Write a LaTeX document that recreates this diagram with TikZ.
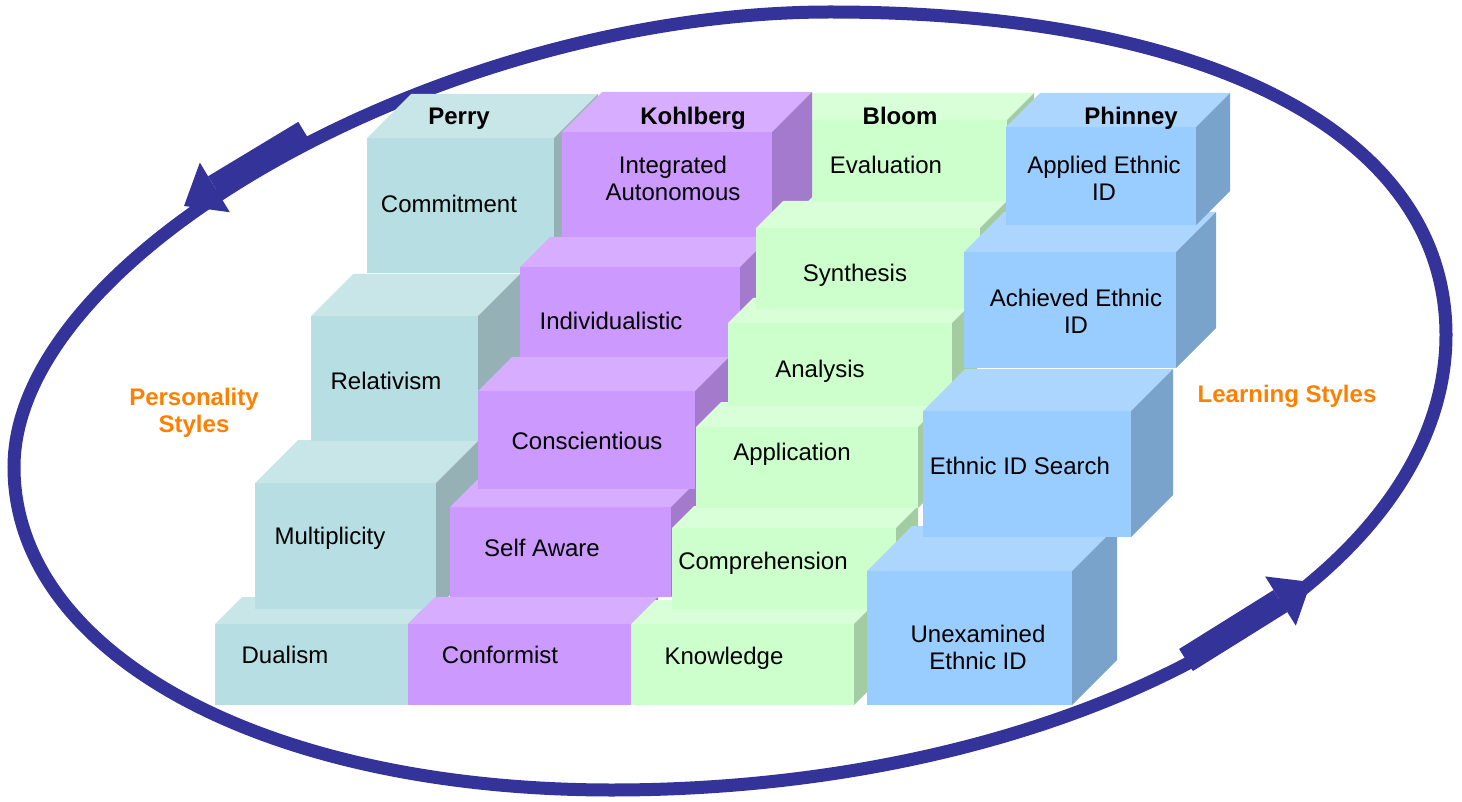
\documentclass[tikz,border=0pt]{standalone}
\usepackage{fontspec}
\setmainfont{Liberation Sans}
\usepackage{tikz}
\usetikzlibrary{arrows.meta}

\definecolor{perryfront}{HTML}{B7DFE3}
\definecolor{perrytop}{HTML}{C8E6E8}
\definecolor{perryside}{HTML}{95B1B5}
\definecolor{kohlfront}{HTML}{CC99FF}
\definecolor{kohltop}{HTML}{D6ADFF}
\definecolor{kohlside}{HTML}{A37ACC}
\definecolor{bloomfront}{HTML}{CCFFCC}
\definecolor{bloomtop}{HTML}{D9FFD9}
\definecolor{bloomside}{HTML}{A3CCA3}
\definecolor{phinfront}{HTML}{99CCFF}
\definecolor{phintop}{HTML}{ADD6FF}
\definecolor{phinside}{HTML}{7AA3CC}
\definecolor{ringblue}{HTML}{333399}
\definecolor{stylesorange}{HTML}{FF8000}

\newcommand{\stepblock}[6]{%
  \fill[#1front] (#2,#4) rectangle (#3,#5);
  \fill[#1top] (#2,#4) -- (#2+#6,#4-#6) -- (#3+#6,#4-#6) -- (#3,#4) -- cycle;
  \fill[#1side] (#3,#4) -- (#3+#6,#4-#6) -- (#3+#6,#5-#6) -- (#3,#5) -- cycle;
}

\begin{document}
\begin{tikzpicture}[x=1pt,y=-1pt,
  lbl/.style={font=\fontsize{24}{27}\selectfont, text height=17pt, text depth=0pt, inner sep=0pt},
  lbltwo/.style={font=\fontsize{24}{27}\selectfont, align=center, inner sep=0pt},
  headlbl/.style={lbl, font=\fontsize{24}{27}\selectfont\bfseries},
  stylelbl/.style={lbltwo, text=stylesorange, font=\fontsize{24}{27}\selectfont\bfseries},
  ring/.style={draw=ringblue, line width=13pt},
  ringarrow/.style={draw=ringblue, line width=26pt, -{Triangle[length=36pt,width=58pt,line width=0pt]}}]
\useasboundingbox (0,0) rectangle (1462,802);
\coordinate (ringl) at (14,467);
\coordinate (ringb) at (612,790);
\coordinate (ringr) at (1446,335);
\coordinate (ringt) at (830,12);
\draw[ring] (ringl) .. controls +(0,187) and +(-347,0) .. (ringb)
  .. controls +(459,0) and +(0,250) .. (ringr)
  .. controls +(0,-200) and +(382,0) .. (ringt)
  .. controls +(-384,0) and +(0,-214) .. (ringl) -- cycle;
\coordinate (ulstart) at (305,133);
\coordinate (ultip) at (184,206);
\coordinate (lrstart) at (1186,660);
\coordinate (lrtip) at (1311,582);
\draw[ringarrow] (ulstart) -- (ultip);
\draw[ringarrow] (lrstart) -- (lrtip);
\stepblock{perry}{215}{408}{624}{705}{27}
\stepblock{perry}{255}{436}{483}{609}{43}
\stepblock{perry}{311}{478}{316}{441}{42}
\stepblock{perry}{367}{554}{138}{273}{44}
\stepblock{bloom}{783}{1007}{120}{202}{27}
\stepblock{kohl}{408}{631}{624}{705}{27}
\stepblock{kohl}{450}{671}{507}{597}{27}
\stepblock{kohl}{478}{695}{391}{489}{34}
\stepblock{kohl}{520}{740}{267}{357}{30}
\stepblock{kohl}{562}{772}{132}{237}{40}
\stepblock{bloom}{631}{854}{624}{705}{24}
\stepblock{bloom}{672}{896}{528}{609}{22}
\stepblock{bloom}{696}{918}{427}{508}{25}
\stepblock{bloom}{728}{952}{323}{406}{25}
\stepblock{bloom}{756}{980}{228}{309}{27}
\stepblock{phin}{867}{1072}{571}{705}{45}
\stepblock{phin}{923}{1131}{411}{537}{42}
\stepblock{phin}{964}{1176}{252}{368}{40}
\stepblock{phin}{1006}{1196}{127}{225}{34}
\node[headlbl] (perry) at (459,116) {Perry};
\node[headlbl] (kohlberg) at (693,116) {Kohlberg};
\node[headlbl] (bloom) at (900,116) {Bloom};
\node[headlbl] (phinney) at (1131,116) {Phinney};
\node[lbl] (commitment) at (449,204) {Commitment};
\node[lbltwo] (integrated) at (673,178.5) {Integrated\\Autonomous};
\node[lbl] (evaluation) at (886,165) {Evaluation};
\node[lbltwo] (applied) at (1104,178.5) {Applied Ethnic\\ID};
\node[lbl] (synthesis) at (855,273) {Synthesis};
\node[lbltwo] (achieved) at (1076,311) {Achieved Ethnic\\ID};
\node[lbl] (relativism) at (386,381) {Relativism};
\node[lbl] (individualistic) at (611,321) {Individualistic};
\node[lbl] (analysis) at (820,369) {Analysis};
\node[lbl] (conscientious) at (587,441) {Conscientious};
\node[lbl] (application) at (792,452) {Application};
\node[lbl] (search) at (1020,466) {Ethnic ID Search};
\node[lbl] (multiplicity) at (330,536) {Multiplicity};
\node[lbl] (selfaware) at (542,548) {Self Aware};
\node[lbl] (comprehension) at (763,561) {Comprehension};
\node[lbl] (dualism) at (285,655) {Dualism};
\node[lbl] (conformist) at (500,655) {Conformist};
\node[lbl] (knowledge) at (724,656) {Knowledge};
\node[lbltwo] (unexamined) at (978,647) {Unexamined\\Ethnic ID};
\node[stylelbl] (personality) at (194,413) {Personality\\Styles};
\node[stylelbl] (learning) at (1287,396) {Learning Styles};
\end{tikzpicture}
\end{document}
